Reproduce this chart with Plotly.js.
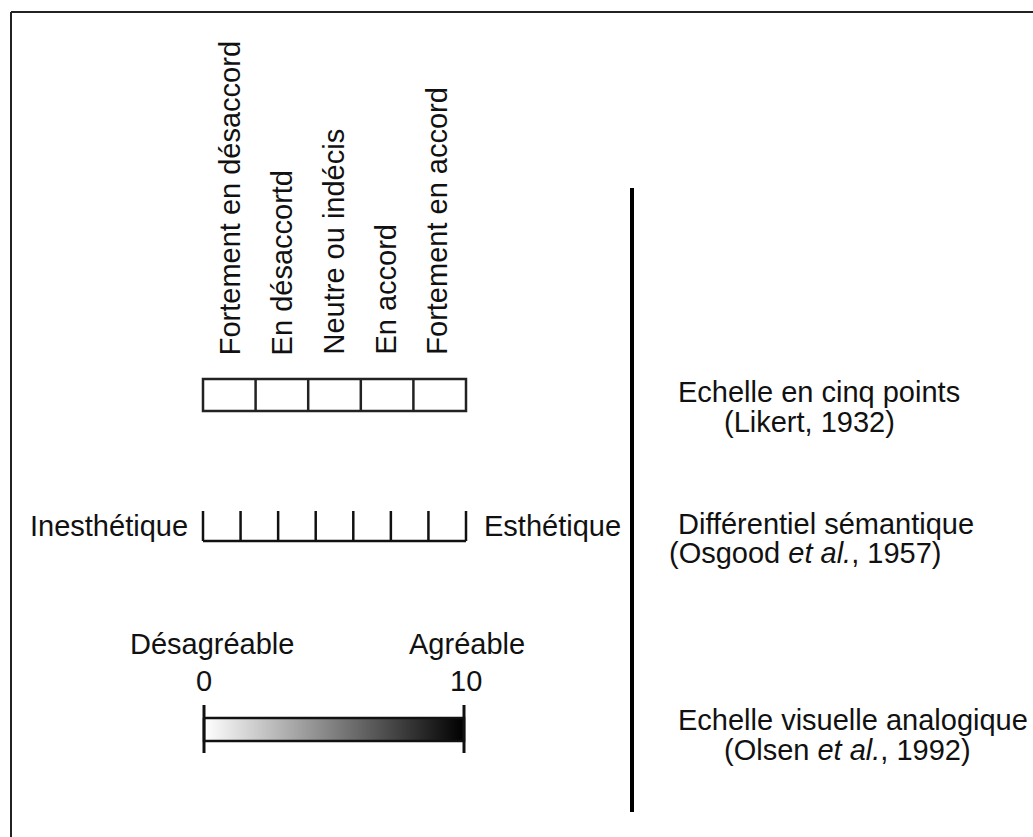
<!DOCTYPE html>
<html>
<head>
<meta charset="utf-8">
<script src="https://cdn.plot.ly/plotly-3.0.1.min.js"></script>
<style>
  html, body { margin: 0; padding: 0; background: #ffffff; }
  #chart { width: 1033px; height: 837px; }
</style>
</head>
<body>
<div id="chart"></div>
<script>
// ---------- data ----------
const likertLabels = ["Fortement en désaccord", "En désaccortd", "Neutre ou indécis", "En accord", "Fortement en accord"];
const osgoodPoints = [1, 2, 3, 4, 5, 6, 7];
const osgoodAnchors = ["Inesthétique", "Esthétique"];
const vasRange = [0, 10];
const vasTickLabels = ["0", "10"];
const vasAnchors = ["Désagréable", "Agréable"];
const scaleNames = ["Echelle en cinq points", "Différentiel sémantique", "Echelle visuelle analogique"];
const scaleRefs = ["(Likert, 1932)", "(Osgood <i>et al.</i>, 1957)", "(Olsen <i>et al.</i>, 1992)"];

// ---------- layout geometry (pixel space) ----------
const FONT = "Liberation Sans, Arial, Helvetica, sans-serif";
const FS = 29;
const INK = "#111111";
const scaleLeft = 203, scaleRight = 466;

const shapes = [];
const annotations = [];
function line(x0, y0, x1, y1, w, c) {
  shapes.push({type: "line", xref: "x", yref: "y", x0: x0, y0: y0, x1: x1, y1: y1,
               line: {color: c || INK, width: w}});
}
function text(t, x, y, xa, ya, extra) {
  annotations.push(Object.assign({text: t, x: x, y: y, xref: "x", yref: "y",
    xanchor: xa, yanchor: ya, showarrow: false,
    font: {family: FONT, size: FS, color: INK}}, extra || {}));
}

// frame
line(11, 12, 1033, 12, 2, "#222");
line(11, 12, 11, 837, 2, "#222");
// divider
line(632, 188, 632, 812, 4, "#000");

// ---- Likert: five boxes ----
const lkTop = 379, lkBot = 411;
const cellW = (scaleRight - scaleLeft) / likertLabels.length;
shapes.push({type: "rect", xref: "x", yref: "y", x0: scaleLeft, x1: scaleRight, y0: lkTop, y1: lkBot,
             line: {color: "#222", width: 2.5}, fillcolor: "rgba(0,0,0,0)"});
likertLabels.forEach((lab, i) => {
  if (i > 0) line(scaleLeft + i * cellW, lkTop, scaleLeft + i * cellW, lkBot, 2.5, "#222");
  text(lab, scaleLeft + (i + 0.5) * cellW + 1 - i, 357, "center", "bottom", {textangle: -90});
});

// ---- Osgood semantic differential ----
const osY = 541, osTop = 511;
const osStep = (scaleRight - scaleLeft) / (osgoodPoints.length);
line(scaleLeft, osY, scaleRight, osY, 2.5, "#111");
for (let k = 0; k <= osgoodPoints.length; k++) {
  line(scaleLeft + k * osStep, osTop, scaleLeft + k * osStep, osY, 2.5, "#111");
}
text(osgoodAnchors[0], 190, 526, "right", "middle");
text(osgoodAnchors[1], 482, 526, "left", "middle");

// ---- Visual analogue scale ----
const vx0 = 204, vx1 = 464;
const vasX = v => vx0 + (v - vasRange[0]) / (vasRange[1] - vasRange[0]) * (vx1 - vx0);
const barTop = 718, barBot = 741;
const gradTrace = {
  type: "scatter", mode: "lines",
  x: [vasX(vasRange[0]), vasX(vasRange[1]), vasX(vasRange[1]), vasX(vasRange[0]), vasX(vasRange[0])],
  y: [barTop, barTop, barBot, barBot, barTop],
  fill: "toself",
  fillgradient: {type: "horizontal", colorscale: [[0, "#ffffff"], [1, "#000000"]]},
  line: {color: "#111", width: 2.5},
  hoverinfo: "skip"
};
vasRange.forEach((v, i) => {
  line(vasX(v), 705, vasX(v), 753, 3, "#111");
  text(vasTickLabels[i], vasX(v) + (i ? 2 : 0), 681, "center", "middle");
  text(vasAnchors[i], vasX(v) + (i ? 3 : 8), 644, "center", "middle");
});

// ---- right-hand descriptions ----
const nameY = [392, 524, 720];
const refY = [422, 553, 750];
const refX = [722, 667, 722];
scaleNames.forEach((n, i) => {
  text(n, 676, nameY[i], "left", "middle");
  text(scaleRefs[i], refX[i], refY[i], "left", "middle");
});

const layout = {
  width: 1033, height: 837,
  margin: {l: 0, r: 0, t: 0, b: 0, pad: 0},
  paper_bgcolor: "#ffffff", plot_bgcolor: "#ffffff",
  showlegend: false,
  xaxis: {range: [0, 1033], visible: false, fixedrange: true},
  yaxis: {range: [837, 0], visible: false, fixedrange: true},
  shapes: shapes,
  annotations: annotations
};

Plotly.newPlot("chart", [gradTrace], layout, {staticPlot: true, displayModeBar: false});
</script>
</body>
</html>
